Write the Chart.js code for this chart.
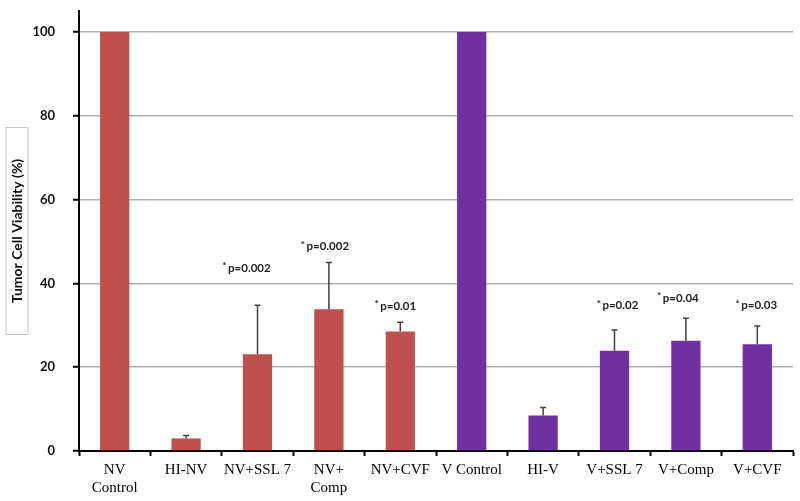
<!DOCTYPE html>
<html>
<head>
<meta charset="utf-8">
<script src="https://cdn.jsdelivr.net/npm/chart.js@4.4.1/dist/chart.umd.min.js"></script>
<style>
  html, body { margin: 0; padding: 0; background: #fff; }
  #wrap { width: 800px; height: 501px; }
</style>
</head>
<body>
<div id="wrap"><canvas id="c"></canvas></div>
<script>
const categories = [
    ['NV', 'Control'], 'HI-NV', 'NV+SSL 7', ['NV+', 'Comp'], 'NV+CVF',
    'V Control', 'HI-V', 'V+SSL 7', 'V+Comp', 'V+CVF'
];
const viability = [100, 3.0, 23.1, 33.8, 28.5, 100, 8.5, 23.9, 26.3, 25.5];
const errorUp = [0, 0.7, 11.7, 11.2, 2.2, 0, 1.9, 5.0, 5.4, 4.3];
const pLabels = ['', '', '*p=0.002', '*p=0.002', '*p=0.01', '', '', '*p=0.02', '*p=0.04', '*p=0.03'];
const pLabelLevel = [0, 0, 43.7, 48.8, 34.6, 0, 0, 34.7, 36.5, 34.7];
const yTicks = [0, 20, 40, 60, 80, 100];

const red = '#C0504D';
const purple = '#7030A0';
const barColors = viability.map((v, i) => i < 5 ? red : purple);

const errorBars = {
    id: 'errorBars',
    afterDatasetsDraw(chart) {
        const ctx = chart.ctx;
        const meta = chart.getDatasetMeta(0);
        const y = chart.scales.y;
        ctx.save();
        ctx.strokeStyle = '#404040';
        ctx.lineWidth = 1.5;
        meta.data.forEach((bar, i) => {
            if (!errorUp[i]) return;
            const top = y.getPixelForValue(viability[i] + errorUp[i]);
            ctx.beginPath();
            ctx.moveTo(bar.x, bar.y);
            ctx.lineTo(bar.x, top);
            ctx.moveTo(bar.x - 3, top);
            ctx.lineTo(bar.x + 3, top);
            ctx.stroke();
        });
        ctx.restore();
    }
};

const pValues = {
    id: 'pValues',
    afterDatasetsDraw(chart, args, opts) {
        const ctx = chart.ctx;
        const x = chart.scales.x;
        const y = chart.scales.y;
        ctx.save();
        ctx.fillStyle = '#222';
        ctx.textBaseline = 'middle';
        pLabels.forEach((txt, i) => {
            if (!txt) return;
            const cx = x.getPixelForValue(i) + opts.nudge[i];
            const cy = y.getPixelForValue(pLabelLevel[i]);
            const rest = txt.slice(1);
            ctx.font = 'bold 11.5px Lato';
            const wRest = ctx.measureText(rest).width;
            ctx.font = 'bold 10px Lato';
            const wStar = ctx.measureText('*').width + 1.5;
            const start = cx - (wRest + wStar) / 2;
            ctx.textAlign = 'left';
            ctx.fillText('*', start, cy - 2);
            ctx.font = 'bold 11.5px Lato';
            ctx.fillText(rest, start + wStar, cy);
        });
        ctx.restore();
    }
};

const boxedTitle = {
    id: 'boxedTitle',
    afterDraw(chart) {
        const ctx = chart.ctx;
        const area = chart.chartArea;
        ctx.save();
        ctx.translate(17, (area.top + area.bottom) / 2);
        ctx.rotate(-Math.PI / 2);
        ctx.strokeStyle = '#c8c8c8';
        ctx.lineWidth = 1;
        ctx.strokeRect(-103.5, -11, 207, 22);
        ctx.font = 'bold 14px Lato';
        ctx.fillStyle = '#111';
        ctx.textAlign = 'center';
        ctx.textBaseline = 'middle';
        ctx.fillText('Tumor Cell Viability (%)', 0, 0);
        ctx.restore();
    }
};

new Chart(document.getElementById('c'), {
    type: 'bar',
    data: {
        labels: categories,
        datasets: [
            {
                data: viability,
                backgroundColor: barColors,
                borderWidth: 0,
                categoryPercentage: 1,
                barPercentage: 0.41
            }
        ]
    },
    options: {
        responsive: true,
        maintainAspectRatio: false,
        animation: false,
        layout: {
            padding: { top: 11, right: 7, bottom: 0, left: 0 }
        },
        plugins: {
            legend: { display: false },
            tooltip: { enabled: false },
            pValues: { nudge: [0, 0, -11, -4, -5, 0, 0, 3, -8, -1] }
        },
        scales: {
            x: {
                grid: {
                    drawOnChartArea: false,
                    drawTicks: true,
                    tickLength: 5,
                    tickColor: '#000',
                    tickWidth: 2,
                    offset: true
                },
                border: { color: '#000', width: 2 },
                ticks: {
                    color: '#000',
                    padding: 5,
                    maxRotation: 0,
                    autoSkip: false,
                    font: { family: 'Liberation Serif', size: 15 }
                },
                afterFit(scale) {
                    scale.height = 50;
                    scale.paddingLeft = 0;
                    scale.paddingRight = 0;
                }
            },
            y: {
                min: 0,
                max: 105,
                afterBuildTicks(scale) {
                    scale.ticks = yTicks.map(v => ({ value: v }));
                },
                grid: {
                    color: '#b0b0b0',
                    lineWidth: 1.5,
                    tickLength: 6,
                    tickColor: '#000',
                    tickWidth: 2
                },
                border: { color: '#000', width: 2 },
                ticks: {
                    color: '#111',
                    padding: 18,
                    font: { family: 'Lato', size: 13, weight: 'bold' }
                },
                afterFit(scale) {
                    scale.width = 79;
                    scale.paddingTop = 0;
                    scale.paddingBottom = 0;
                }
            }
        }
    },
    plugins: [errorBars, pValues, boxedTitle]
});
</script>
</body>
</html>
